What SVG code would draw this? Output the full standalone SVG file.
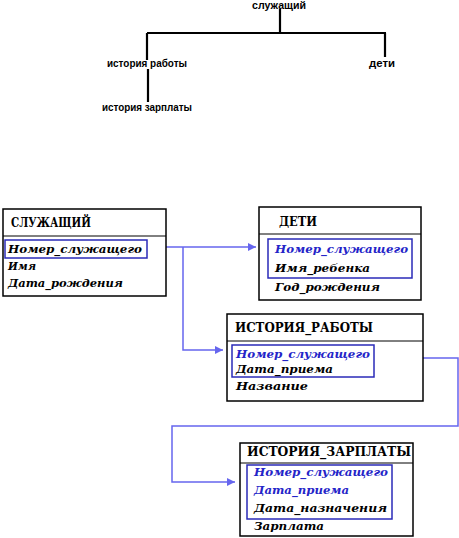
<svg xmlns="http://www.w3.org/2000/svg" width="459" height="538" viewBox="0 0 459 538">
<defs>
<marker id="arr" viewBox="0 0 10 10" refX="10" refY="5" markerWidth="8" markerHeight="8" markerUnits="userSpaceOnUse" orient="auto">
<path d="M0,0 L10,5 L0,10 Z" fill="#6666ee"/>
</marker>
<style>
.tree{stroke:#000;stroke-width:2.2;fill:none}
.tl{font-family:"Liberation Sans",Arial,sans-serif;font-size:10px;font-weight:bold;fill:#000;text-anchor:middle}
.box{fill:#fff;stroke:#000;stroke-width:1.5}
.div{stroke:#000;stroke-width:1}
.key{fill:none;stroke:#2a2ab8;stroke-width:1.5}
.hd{font-family:"DejaVu Serif","Liberation Serif",serif;font-size:12px;font-weight:bold;fill:#000}
.fd{font-family:"DejaVu Serif","Liberation Serif",serif;font-size:11px;font-weight:bold;font-style:italic;fill:#000}
.bl{fill:#2424c8}
.con{fill:none;stroke:#6666ee;stroke-width:1.5}
</style>
</defs>
<rect width="459" height="538" fill="#fff"/>

<g id="tree">
<path class="tree" d="M280,9 V33 M147,33 H386 M147,33 V60 M385,33 V57 M148,69 V102"/>
<text class="tl" x="279" y="9" textLength="54" lengthAdjust="spacingAndGlyphs">служащий</text>
<text class="tl" x="147" y="67" textLength="80" lengthAdjust="spacingAndGlyphs">история работы</text>
<text class="tl" x="382" y="67" textLength="26" lengthAdjust="spacingAndGlyphs">дети</text>
<text class="tl" x="147" y="111" textLength="90" lengthAdjust="spacingAndGlyphs">история зарплаты</text>
</g>

<g id="connectors">
<path class="con" d="M157,247 H256" marker-end="url(#arr)"/>
<path class="con" d="M183,247 V350 H223" marker-end="url(#arr)"/>
<path class="con" d="M374,358 H458 V426 H172 V482 H235" marker-end="url(#arr)"/>
</g>

<g id="employee">
<rect class="box" x="3" y="209" width="163" height="87"/>
<line class="div" x1="3" y1="236" x2="166" y2="236"/>
<text class="hd" x="11" y="227" textLength="80" lengthAdjust="spacingAndGlyphs">СЛУЖАЩИЙ</text>
<rect class="key" x="5" y="240" width="142" height="18"/>
<text class="fd" x="8" y="253" textLength="134" lengthAdjust="spacingAndGlyphs">Номер_служащего</text>
<text class="fd" x="8" y="270" textLength="28" lengthAdjust="spacingAndGlyphs">Имя</text>
<text class="fd" x="8" y="287" textLength="115" lengthAdjust="spacingAndGlyphs">Дата_рождения</text>
</g>

<g id="children">
<rect class="box" x="259" y="207" width="162" height="93"/>
<line class="div" x1="259" y1="234" x2="421" y2="234"/>
<text class="hd" x="279" y="226" textLength="38" lengthAdjust="spacingAndGlyphs">ДЕТИ</text>
<rect class="key" x="268" y="239" width="144" height="39"/>
<text class="fd bl" x="275" y="253" textLength="133" lengthAdjust="spacingAndGlyphs">Номер_служащего</text>
<text class="fd" x="275" y="272" textLength="95" lengthAdjust="spacingAndGlyphs">Имя_ребенка</text>
<text class="fd" x="275" y="291" textLength="105" lengthAdjust="spacingAndGlyphs">Год_рождения</text>
</g>

<g id="work_history">
<rect class="box" x="227" y="314" width="196" height="87"/>
<line class="div" x1="227" y1="341" x2="423" y2="341"/>
<text class="hd" x="235" y="332" textLength="138" lengthAdjust="spacingAndGlyphs">ИСТОРИЯ_РАБОТЫ</text>
<rect class="key" x="232" y="345" width="142" height="32"/>
<text class="fd bl" x="236" y="358" textLength="134" lengthAdjust="spacingAndGlyphs">Номер_служащего</text>
<text class="fd" x="236" y="373" textLength="97" lengthAdjust="spacingAndGlyphs">Дата_приема</text>
<text class="fd" x="236" y="390" textLength="72" lengthAdjust="spacingAndGlyphs">Название</text>
</g>

<g id="salary_history">
<rect class="box" x="240" y="443" width="173" height="93"/>
<line class="div" x1="240" y1="463" x2="413" y2="463"/>
<text class="hd" x="247" y="456" textLength="164" lengthAdjust="spacingAndGlyphs">ИСТОРИЯ_ЗАРПЛАТЫ</text>
<rect class="key" x="247" y="465" width="145" height="54"/>
<text class="fd bl" x="254" y="476" textLength="134" lengthAdjust="spacingAndGlyphs">Номер_служащего</text>
<text class="fd bl" x="254" y="494" textLength="95" lengthAdjust="spacingAndGlyphs">Дата_приема</text>
<text class="fd" x="254" y="512" textLength="133" lengthAdjust="spacingAndGlyphs">Дата_назначения</text>
<text class="fd" x="254" y="530" textLength="70" lengthAdjust="spacingAndGlyphs">Зарплата</text>
</g>
</svg>
